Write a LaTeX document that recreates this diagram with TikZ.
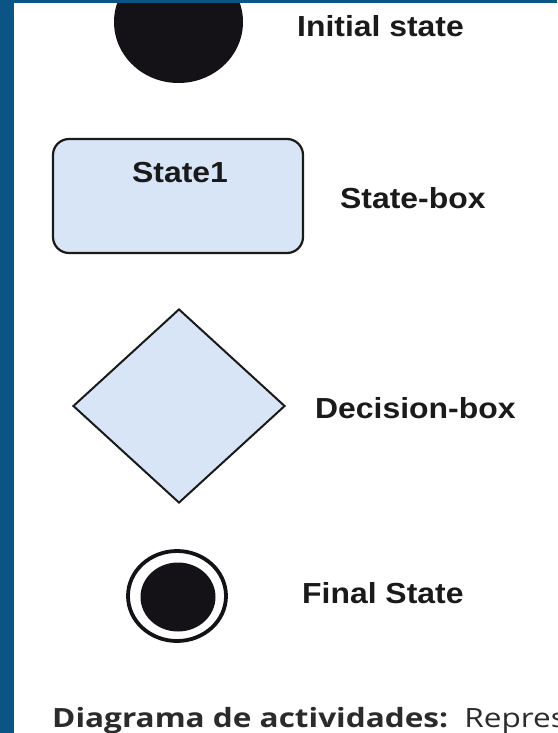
\documentclass[tikz,border=0pt]{standalone}
\usepackage{fontspec}
\usetikzlibrary{shapes.geometric}
\newfontfamily\labelfont[FakeStretch=1.1]{Liberation Sans Bold}
\newfontfamily\captionfont[FakeStretch=1.19]{Open Sans}
\definecolor{sidebar}{HTML}{0B5586}
\definecolor{shapefill}{HTML}{D8E5F7}
\definecolor{ink}{HTML}{1A1A1A}
\definecolor{solid}{HTML}{141216}
\definecolor{captionink}{HTML}{2B2B2B}
\tikzset{
  legendlabel/.style={inner sep=0pt, anchor=base west, text=ink,
    font=\labelfont\fontsize{29}{34}\selectfont},
  outline/.style={draw=ink, line width=2.2pt, fill=shapefill},
  blob/.style={ellipse, fill=solid, inner sep=0pt},
}
\begin{document}
\begin{tikzpicture}[x=1pt, y=-1pt]
  \useasboundingbox (0,0) rectangle (557,733);
  \fill[white] (0,0) rectangle (557,733);

  % initial state: solid disc, partly cut by the top edge
  \begin{scope}
    \clip (0,0) rectangle (557,733);
    \node[blob, minimum width=129pt, minimum height=122pt] (init) at (178.5,22) {};
  \end{scope}
  \node[legendlabel] (initlbl) at (297,37) {Initial state};

  % state box
  \node[outline, rectangle, rounded corners=16pt, minimum width=250pt,
        minimum height=114pt, inner sep=0pt] (state) at (178,196) {};
  \node[inner sep=0pt, anchor=base, text=ink,
        font=\labelfont\fontsize{29}{34}\selectfont] (statename) at (180,182) {State1};
  \node[legendlabel] (statelbl) at (340,208) {State-box};

  % decision box
  \node[outline, diamond, line width=2pt, minimum width=212pt,
        minimum height=194pt, inner sep=0pt] (decision) at (179,406) {};
  \node[legendlabel] (decisionlbl) at (315,418) {Decision-box};

  % final state: ring around a solid disc
  \node[ellipse, draw=solid, line width=3.8pt, minimum width=98pt,
        minimum height=90pt, inner sep=0pt] (finalring) at (177,596) {};
  \node[blob, minimum width=75pt, minimum height=69pt] (finaldot) at (178,597) {};
  \node[legendlabel] (finallbl) at (302,603) {Final State};

  % caption line below the legend, running past the right edge
  \begin{scope}
    \clip (0,0) rectangle (557,733);
    \node[inner sep=0pt, anchor=base west, text=captionink,
          font=\captionfont\fontsize{26.5}{30}\selectfont] (caption) at (52,727)
          {\textbf{Diagrama de actividades:}\hspace{0.2em} Repres};
  \end{scope}

  % page frame strips
  \fill[sidebar] (0,0) rectangle (14,733);
  \fill[sidebar] (0,0) rectangle (557,3);
\end{tikzpicture}
\end{document}
